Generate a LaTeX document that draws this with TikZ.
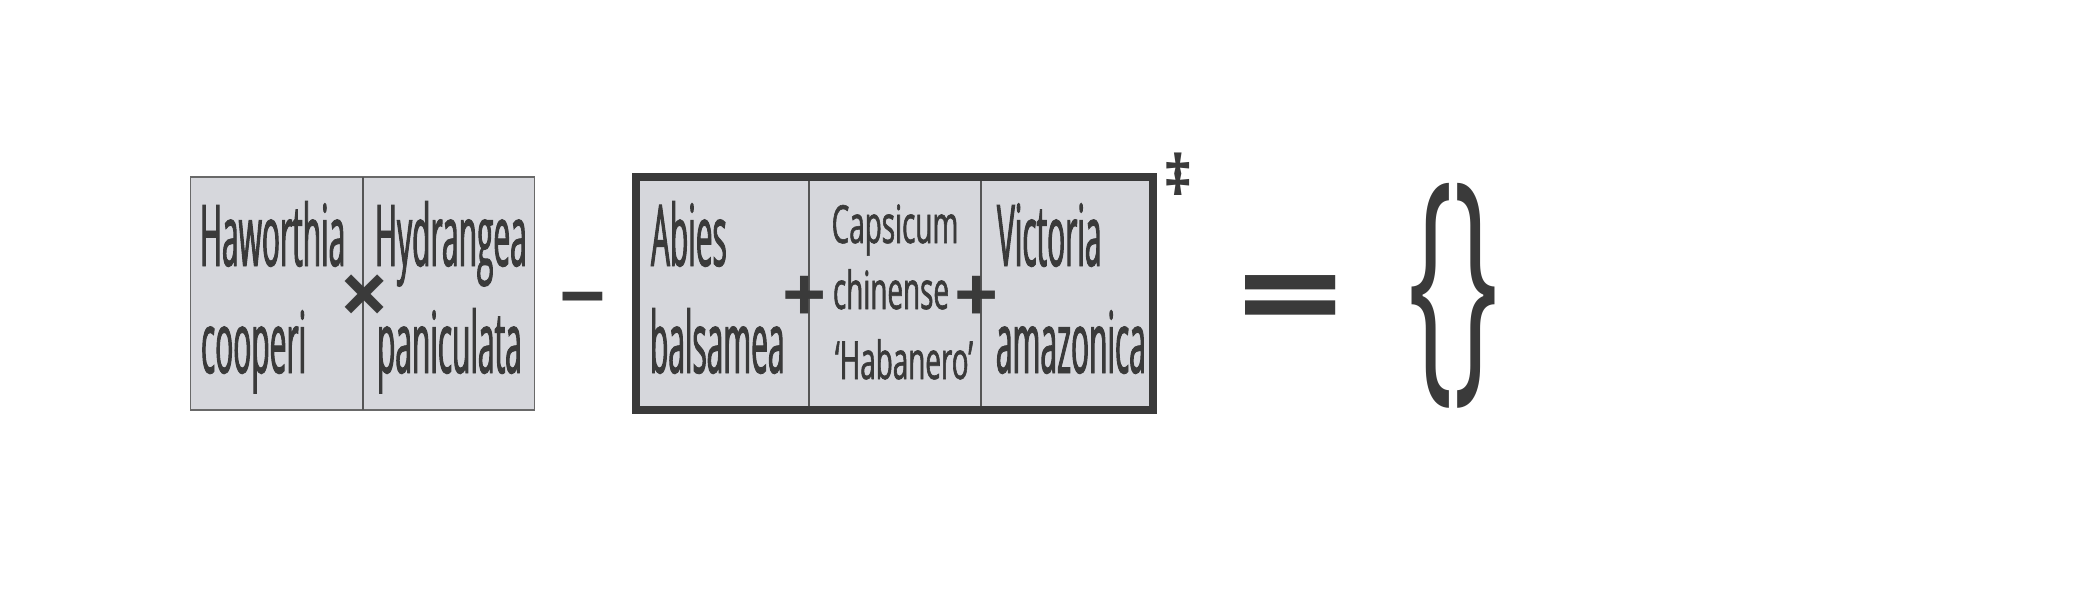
\documentclass[tikz,border=0pt]{standalone}
\usepackage{fontspec}
\setmainfont{Open Sans}
\newfontfamily\bigf[FakeStretch=0.35,FakeBold=1.1]{Open Sans}
\newfontfamily\smallf[FakeStretch=0.53,FakeBold=1.1]{Open Sans}
\newfontfamily\symf{Open Sans}
\definecolor{ink}{RGB}{58,58,58}
\definecolor{cellfill}{RGB}{214,215,220}
\definecolor{thinedge}{RGB}{105,105,105}
\definecolor{divcol}{RGB}{85,85,85}
\begin{document}
\begin{tikzpicture}[x=1pt,y=-1pt,
  every node/.style={inner sep=0pt, outer sep=0pt, text=ink},
  bigtext/.style={font=\bigf\fontsize{85.4}{100}\selectfont, anchor=base west},
  smalltext/.style={font=\smallf\fontsize{52.5}{60}\selectfont, anchor=base},
  opsym/.style={font=\symf\bfseries, anchor=north},
  thinbox/.style={fill=cellfill, draw=thinedge, line width=1.2pt},
  thickbox/.style={fill=cellfill, draw=ink, line width=8pt},
  divider/.style={draw=divcol, line width=1.3pt}]
\fill[white] (0,0) rectangle (2100,600);
\useasboundingbox (0,0) rectangle (2100,600);
% boxes
\node[thinbox, minimum width=344pt, minimum height=233pt] (leftbox) at (362.5,293.5) {};
\node[thickbox, minimum width=517pt, minimum height=233pt] (rightbox) at (894.5,293.5) {};
\draw[divider] (363,177) -- (363,410);
\draw[divider] (809,181) -- (809,406);
\draw[divider] (981,181) -- (981,406);
% texts
\node[bigtext] (hw) at (200,266) {Haworthia};
\node[bigtext] (co) at (201,373) {cooperi};
\node[bigtext] (hy) at (375,266) {Hydrangea};
\node[bigtext] (pa) at (377,373) {paniculata};
\node[bigtext] (ab) at (651,266) {Abies};
\node[bigtext] (ba) at (650,373) {balsamea};
\node[bigtext] (vi) at (997,266) {Victoria};
\node[bigtext] (am) at (996,373) {amazonica};
\node[smalltext] (ca) at (895,243) {Capsicum};
\node[smalltext] (ch) at (891,309) {chinense};
\node[smalltext] (hb) at (904,379) {‘Habanero’};
% operators
\node[opsym, font=\symf\bfseries\fontsize{88}{90}\selectfont] (times) at (364.5,275) {×};
\node[opsym, font=\symf\bfseries\fontsize{77.5}{80}\selectfont] (plusa) at (805,276) {+};
\node[opsym, font=\symf\bfseries\fontsize{77.5}{80}\selectfont] (plusb) at (977,276) {+};
\node[opsym, font=\symf\bfseries\fontsize{82}{85}\selectfont] (minus) at (582.5,292) {−};
\node[opsym, font=\symf\bfseries\fontsize{186}{190}\selectfont] (equal) at (1291,276) {\scalebox{1}[0.72]{=}};
\node[opsym, font=\symf\bfseries\fontsize{56}{60}\selectfont] (ddag) at (1178,153) {‡};
\node[anchor=north, font=\symf\fontsize{100}{100}\selectfont] (empty) at (1453,183) {\resizebox*{90pt}{225pt}{\{\}}};
\end{tikzpicture}
\end{document}
